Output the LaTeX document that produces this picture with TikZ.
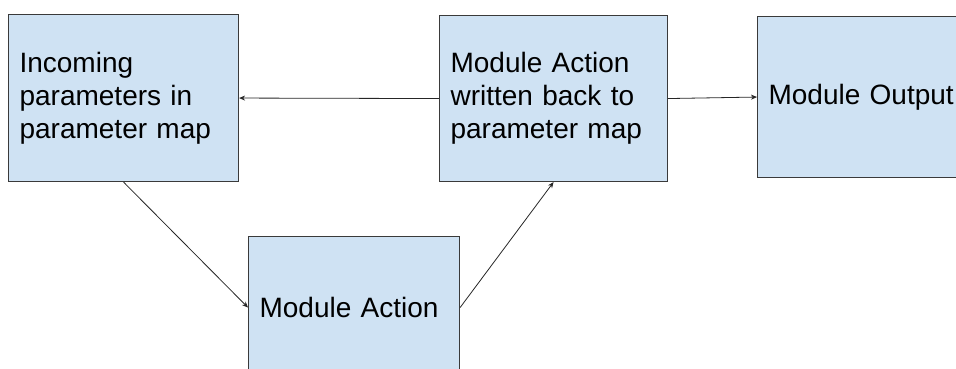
\documentclass[tikz,border=0pt]{standalone}
\usepackage{fontspec}
\setmainfont{Liberation Sans}
\usetikzlibrary{arrows.meta}
\definecolor{boxfill}{HTML}{CFE2F3}
\definecolor{boxline}{HTML}{3A3A3A}
\definecolor{wire}{HTML}{262626}

\begin{document}
\begin{tikzpicture}[x=1pt, y=-1pt, >={Stealth[length=6pt, width=5pt]},
    block/.style={draw=boxline, line width=1.1pt, fill=boxfill, rectangle,
        anchor=north west, inner xsep=11pt, align=left,
        font=\fontsize{28}{33}\selectfont},
    link/.style={->, draw=wire, line width=0.8pt}]

    \useasboundingbox (0,0) rectangle (956,369);
    \clip (0,0) rectangle (956,369);

    % boxes, placed at the pixel corners of the sketch
    \node[block, minimum width=230pt, minimum height=167pt, text width=208pt]
        (incoming) at (8,14) {Incoming\\parameters in\\parameter map};
    \node[block, minimum width=228pt, minimum height=166pt, text width=206pt]
        (writeback) at (439,15) {Module Action\\written back to\\parameter map};
    \node[block, minimum width=230pt, minimum height=161pt, text width=208pt]
        (output) at (757,16) {Module Output};
    \node[block, minimum width=211pt, minimum height=142pt, text width=189pt]
        (action) at (248,236) {Module Action};

    \draw[link] (writeback.west) -- (incoming.east);
    \draw[link] (writeback.east) -- (output.west);
    \draw[link] (incoming.south) -- (action.west);
    \draw[link] (action.east) -- (writeback.south);
\end{tikzpicture}
\end{document}
